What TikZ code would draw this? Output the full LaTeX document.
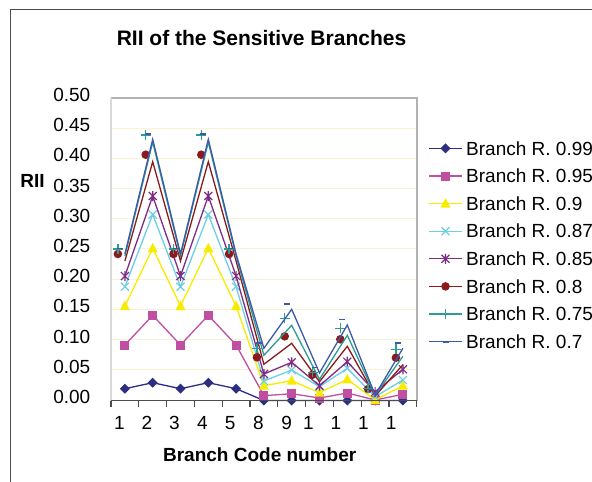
\documentclass[tikz,border=0pt]{standalone}
\usepackage{fontspec}
\setmainfont{Liberation Sans}
\definecolor{cnavy}{HTML}{2B2E83}
\definecolor{cmag}{HTML}{C04FA2}
\definecolor{cyel}{HTML}{F7EC00}
\definecolor{ccyan}{HTML}{6CCFE6}
\definecolor{cpur}{HTML}{7F2C86}
\definecolor{cred}{HTML}{8C1A1D}
\definecolor{cteal}{HTML}{2E9C96}
\definecolor{cblue}{HTML}{3B5BAA}
\definecolor{cgrid}{HTML}{FAF3D2}
\tikzset{
  ser/.style={line width=1.3pt, line join=miter},
  mdia/.pic={\fill[cnavy] (0,5pt)--(5pt,0)--(0,-5pt)--(-5pt,0)--cycle;},
  msq/.pic={\fill[cmag] (-4.5pt,-4.5pt) rectangle (4.5pt,4.5pt);},
  mtri/.pic={\fill[cyel] (0,5.5pt)--(5pt,-4pt)--(-5pt,-4pt)--cycle;},
  mx/.pic={\draw[ccyan,line width=1.2pt] (-4pt,-4pt)--(4pt,4pt) (-4pt,4pt)--(4pt,-4pt);},
  mstar/.pic={\draw[cpur,line width=1.2pt] (-4pt,-4pt)--(4pt,4pt) (-4pt,4pt)--(4pt,-4pt) (0,-5pt)--(0,5pt);},
  mdot/.pic={\fill[cred] (0,0) circle (4.3pt);},
  mplus/.pic={\draw[cteal,line width=1.4pt] (-5pt,0)--(5pt,0) (0,-5pt)--(0,5pt);},
  mdash/.pic={\draw[cblue,line width=1.8pt] (-3pt,0)--(3pt,0);},
  ticklab/.style={font=\fontsize{19}{22}\selectfont, inner sep=0pt},
  leglab/.style={font=\fontsize{19}{22}\selectfont, inner sep=0pt, anchor=west},
}
\begin{document}
\begin{tikzpicture}[x=1pt,y=-1pt]
\useasboundingbox (0,0) rectangle (592,482);
\fill[white] (0,0) rectangle (592,482);
% outer chart frame
\draw[black!70,line width=1pt] (10,482) -- (10,9.5) -- (592,9.5);
% title
\node[font=\fontsize{21}{25}\selectfont\bfseries, inner sep=0pt] (title) at (261.5,38) {RII of the Sensitive Branches};
% gridlines
\foreach \v in {0.05,0.10,...,0.46} \draw[cgrid,line width=1pt] (111,{400-604*\v}) -- (417,{400-604*\v});
% plot area borders
\draw[black!30,line width=1.5pt] (111,98) -- (417,98) -- (417,400.5);
\draw[black!15,line width=2pt] (111,98) -- (111,400.5);
% y tick labels
\foreach \v/\t in {0.50/0.50,0.45/0.45,0.40/0.40,0.35/0.35,0.30/0.30,0.25/0.25,0.20/0.20,0.15/0.15,0.10/0.10,0.05/0.05,0.00/0.00}
  \node[ticklab, anchor=east] at (90.5,{397-604*\v}) {\t};
\node[font=\fontsize{19}{22}\selectfont\bfseries, inner sep=0pt] (ylab) at (32.5,181) {RII};
% x tick labels
\foreach \xx/\t in {119.3/1,146.9/2,174.5/3,202.3/4,230.2/5,258.3/8,286.6/9,308.3/1,336/1,363.4/1,391.2/1}
  \node[ticklab] at (\xx,423) {\t};
\node[font=\fontsize{19}{22}\selectfont\bfseries, inner sep=0pt] (xlab) at (259.7,455) {Branch Code number};

\begin{scope}[xshift=97.1pt, x=27.8pt]
% 0.99
\draw[ser,cnavy] plot coordinates {(1,388.7) (2,382.7) (3,388.7) (4,382.7) (5,388.7) (6,400.5) (7,400.5) (8,400.5) (9,400.5) (10,400.5) (11,400.5)};
\foreach \y [count=\i] in {388.7,382.7,388.7,382.7,388.7,400.5,400.5,400.5,400.5,400.5,400.5} \pic at (\i,\y) {mdia};
% 0.95
\draw[ser,cmag] plot coordinates {(1,345) (2,315.3) (3,345) (4,315.3) (5,345) (6,395.7) (7,393.7) (8,398) (9,393) (10,400) (11,394.3)};
\foreach \y [count=\i] in {345,315.3,345,315.3,345,395.7,393.7,398,393,400,394.3} \pic at (\i,\y) {msq};
% 0.9
\draw[ser,cyel] plot coordinates {(1,306) (2,248.3) (3,306) (4,248.3) (5,306) (6,385.7) (7,380.7) (8,392.7) (9,379.3) (10,400) (11,385.7)};
\foreach \y [count=\i] in {306,248.3,306,248.3,306,385.7,380.7,392.7,379.3,400,385.7} \pic at (\i,\y) {mtri};
% 0.87
\draw[ser,ccyan] plot coordinates {(1,286.7) (2,214.5) (3,286.7) (4,214.5) (5,286.7) (6,381) (7,370) (8,386.7) (9,368.3) (10,396.7) (11,380)};
\foreach \y [count=\i] in {286.7,214.5,286.7,214.5,286.7,381,370,386.7,368.3,396.7,380} \pic at (\i,\y) {mx};
% 0.85
\draw[ser,cpur] plot coordinates {(1,276) (2,196) (3,276) (4,196) (5,276) (6,374) (7,362.3) (8,385.7) (9,361.7) (10,392) (11,369.3)};
\foreach \y [count=\i] in {276,196,276,196,276,374,362.3,385.7,361.7,392,369.3} \pic at (\i,\y) {mstar};
% 0.8
\draw[ser,cred] plot coordinates {(1,261) (2,161.7) (3,261) (4,161.7) (5,261) (6,364.3) (7,343.3) (8,381.7) (9,346.3) (10,396) (11,364.7)};
\begin{scope}[xshift=-7pt,yshift=7pt]
\foreach \y [count=\i] in {261,161.7,261,161.7,261,364.3,343.3,381.7,346.3,396,364.7} \pic at (\i,\y) {mdot};
\end{scope}
% 0.75
\draw[ser,cteal] plot coordinates {(1,256) (2,142) (3,256) (4,142) (5,256) (6,355.3) (7,325.3) (8,379.3) (9,335.3) (10,395.3) (11,356.3)};
\begin{scope}[xshift=-7pt,yshift=7pt]
\foreach \y [count=\i] in {256,142,256,142,256,355.3,325.3,379.3,335.3,395.3,356.3} \pic at (\i,\y) {mplus};
\end{scope}
% 0.7
\draw[ser,cblue] plot coordinates {(1,254) (2,139.3) (3,254) (4,139.3) (5,254) (6,348.3) (7,309.3) (8,373) (9,325) (10,395) (11,348.3)};
\begin{scope}[xshift=-5pt,yshift=5.6pt]
\foreach \y [count=\i] in {254,139.3,254,139.3,254,348.3,309.3,373,325,395,348.3} \pic at (\i,\y) {mdash};
\end{scope}
\end{scope}

% x axis
\draw[black!70,line width=1.2pt] (111,400.5) -- (417,400.5);
\foreach \k in {0,...,11} \draw[black!70,line width=1.2pt] ({111+27.8*\k},400.5) -- ({111+27.8*\k},406.5);

% legend
\foreach \yy/\c/\m/\t [count=\n] in {148.3/cnavy/mdia/0.99,176/cmag/msq/0.95,203.6/cyel/mtri/0.9,231.2/ccyan/mx/0.87,258.8/cpur/mstar/0.85,286.4/cred/mdot/0.8,314/cteal/mplus/0.75,341.7/cblue/mdash/0.7}{
  \draw[ser,\c] (429,\yy) -- (462,\yy);
  \pic at (445.5,\yy) {\m};
  \node[leglab] (leg\n) at (466,\yy) {Branch R. \t};
}
\end{tikzpicture}
\end{document}
